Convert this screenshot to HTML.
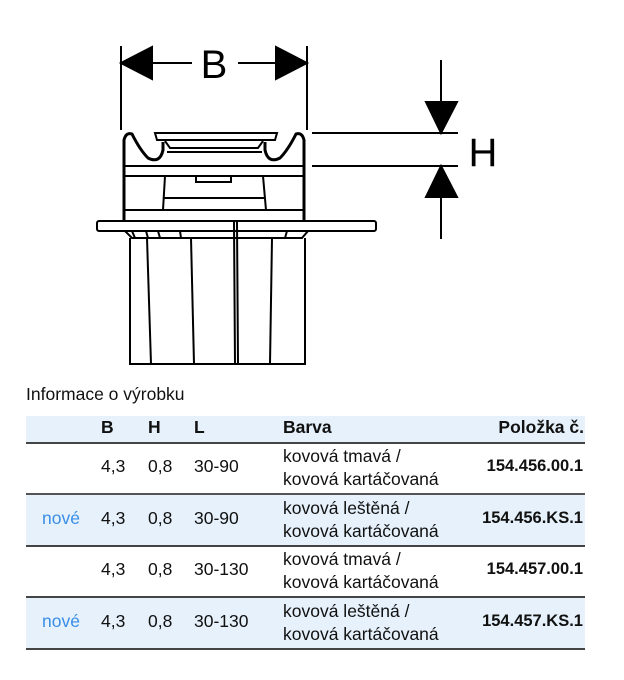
<!DOCTYPE html>
<html><head><meta charset="utf-8"><style>
body{margin:0;background:#fff;width:624px;height:680px;position:relative;font-family:"Liberation Sans",sans-serif;overflow:hidden}
.t{position:absolute;font-size:17.5px;color:#111;white-space:nowrap}
.b{font-weight:bold}
.num{font-size:16.5px}
.n{color:#3a8ee6}
.bg{position:absolute;left:26px;width:559px;background:#e6f1fb}
.ln{position:absolute;left:26px;width:559px;height:2px;background:#444}
</style></head><body>
<svg width="624" height="380" style="position:absolute;left:0;top:0" stroke="#000" fill="none" stroke-width="2">
<line x1="121" y1="46" x2="121" y2="130"/><line x1="307" y1="46" x2="307" y2="130"/>
<line x1="150" y1="63" x2="192" y2="63"/><line x1="238" y1="63" x2="278" y2="63"/>
<polygon points="121,63 152,47 152,79" fill="#000"/><polygon points="307,63 276,47 276,79" fill="#000"/>
<text x="214" y="78" font-family="Liberation Sans" font-size="40" fill="#000" stroke="none" text-anchor="middle">B</text>
<line x1="441" y1="60" x2="441" y2="105"/><line x1="441" y1="195" x2="441" y2="239"/>
<line x1="312" y1="133" x2="458" y2="133"/><line x1="312" y1="166" x2="458" y2="166"/>
<polygon points="441,133 426,102 457,102" fill="#000"/><polygon points="441,166 426,197 457,197" fill="#000"/>
<text x="483" y="166" font-family="Liberation Sans" font-size="40" fill="#000" stroke="none" text-anchor="middle">H</text>
<path d="M124 221 V140 Q126 132 132 134 Q140 150 148 158 Q160 164 163 150 L163 142" stroke-width="3"/>
<path d="M304 221 V140 Q302 132 296 134 Q288 150 280 158 Q268 164 265 150 L265 142" stroke-width="3"/>
<path d="M155 133 H277 L275 140 H157 Z"/>
<path d="M165 141 L170 148 H258 L263 141"/>
<path d="M167 152 H262"/>
<line x1="124" y1="166" x2="304" y2="166"/><line x1="124" y1="176" x2="304" y2="176"/>
<path d="M165 176 L163 210 H266 L263 176"/>
<path d="M196 176 V182 H231 V176"/>
<path d="M164 198 H265"/>
<line x1="124" y1="210" x2="304" y2="210"/>
<rect x="97" y="221" width="279" height="10" rx="2"/>
<path d="M125 231 L132 238 H302 L308 231"/>
<path d="M130 238 V364 H305 V238"/>
<line x1="147" y1="238" x2="151" y2="364"/><line x1="191" y1="238" x2="194" y2="364"/>
<line x1="234" y1="222" x2="235" y2="364"/><line x1="237" y1="222" x2="238" y2="364"/>
<line x1="272" y1="238" x2="270" y2="364"/>
<line x1="132" y1="231" x2="135" y2="238"/><line x1="146" y1="231" x2="148" y2="238"/><line x1="158" y1="231" x2="160" y2="238"/><line x1="180" y1="231" x2="181" y2="238"/><line x1="287" y1="231" x2="285" y2="238"/>
</svg>
<div class="t" style="left:26px;top:384px">Informace o výrobku</div>
<div class="bg" style="top:416px;height:27px"></div>
<div class="ln" style="top:442px"></div>
<div class="bg" style="top:495px;height:50px"></div>
<div class="ln" style="top:493px;background:#555"></div>
<div class="ln" style="top:545px"></div>
<div class="bg" style="top:597px;height:51px"></div>
<div class="ln" style="top:596px"></div>
<div class="ln" style="top:648px"></div>
<div class="t b" style="left:101px;top:417px">B</div>
<div class="t b" style="left:148px;top:417px">H</div>
<div class="t b" style="left:194px;top:417px">L</div>
<div class="t b" style="left:283px;top:417px">Barva</div>
<div class="t b" style="right:40px;top:417px">Položka č.</div>

<div class="t" style="left:101px;top:456px">4,3</div><div class="t" style="left:148px;top:456px">0,8</div><div class="t" style="left:194px;top:456px">30-90</div>
<div class="t" style="left:283px;top:445px;line-height:23px">kovová tmavá /<br>kovová kartáčovaná</div>
<div class="t b num" style="right:41px;top:457px">154.456.00.1</div>

<div class="t n" style="left:42px;top:508px">nové</div>
<div class="t" style="left:101px;top:508px">4,3</div><div class="t" style="left:148px;top:508px">0,8</div><div class="t" style="left:194px;top:508px">30-90</div>
<div class="t" style="left:283px;top:497px;line-height:23px">kovová leštěná /<br>kovová kartáčovaná</div>
<div class="t b num" style="right:41px;top:509px">154.456.KS.1</div>

<div class="t" style="left:101px;top:559px">4,3</div><div class="t" style="left:148px;top:559px">0,8</div><div class="t" style="left:194px;top:559px">30-130</div>
<div class="t" style="left:283px;top:548px;line-height:23px">kovová tmavá /<br>kovová kartáčovaná</div>
<div class="t b num" style="right:41px;top:560px">154.457.00.1</div>

<div class="t n" style="left:42px;top:611px">nové</div>
<div class="t" style="left:101px;top:611px">4,3</div><div class="t" style="left:148px;top:611px">0,8</div><div class="t" style="left:194px;top:611px">30-130</div>
<div class="t" style="left:283px;top:600px;line-height:23px">kovová leštěná /<br>kovová kartáčovaná</div>
<div class="t b num" style="right:41px;top:612px">154.457.KS.1</div>
</body></html>
